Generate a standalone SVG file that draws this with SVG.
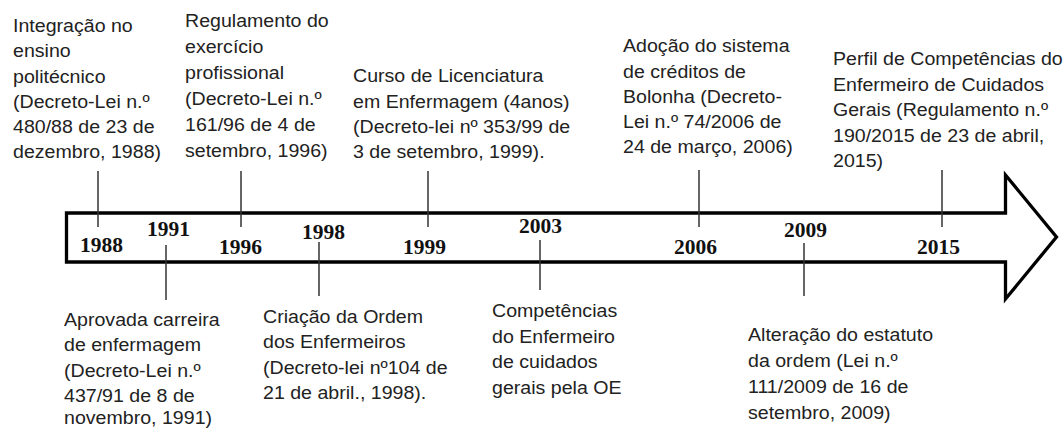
<svg xmlns="http://www.w3.org/2000/svg" width="1064" height="429" viewBox="0 0 1064 429">
<style>
.lbl{font-family:"Liberation Sans",Arial,sans-serif;font-size:17.5px;fill:#222}
.yr{font-family:"Liberation Serif","Times New Roman",serif;font-size:21.5px;font-weight:bold;fill:#111}
.tick{stroke:#333;stroke-width:1.5;fill:none}
.arrow{fill:#fff;stroke:#000;stroke-width:3.3;stroke-linejoin:miter}
</style>
<rect width="1064" height="429" fill="#fff"/>
<g id="timeline-arrow">
<polygon class="arrow" points="66.5,213 1005.5,213 1005.5,175 1056.5,237 1005.5,299 1005.5,262 66.5,262"/>
</g>
<g id="connectors">
<line class="tick" x1="98" y1="171" x2="98" y2="227"/>
<line class="tick" x1="241" y1="171" x2="241" y2="227"/>
<line class="tick" x1="428" y1="171" x2="428" y2="227"/>
<line class="tick" x1="699" y1="170" x2="699" y2="227"/>
<line class="tick" x1="942" y1="170" x2="942" y2="227"/>
<line class="tick" x1="166" y1="245" x2="166" y2="300"/>
<line class="tick" x1="319" y1="242" x2="319" y2="296"/>
<line class="tick" x1="540" y1="240" x2="540" y2="290"/>
<line class="tick" x1="804" y1="243" x2="804" y2="296"/>
</g>
<g id="years">
<text class="yr" x="80" y="252">1988</text>
<text class="yr" x="147" y="236">1991</text>
<text class="yr" x="219" y="254">1996</text>
<text class="yr" x="302" y="239">1998</text>
<text class="yr" x="403" y="254">1999</text>
<text class="yr" x="519" y="233">2003</text>
<text class="yr" x="674" y="254">2006</text>
<text class="yr" x="784" y="237">2009</text>
<text class="yr" x="917" y="254">2015</text>
</g>
<g id="n1988" transform="translate(13,0) scale(1.12,1)">
<text class="lbl" x="0" y="32">Integração no</text>
<text class="lbl" x="0" y="57.5">ensino</text>
<text class="lbl" x="0" y="83">politécnico</text>
<text class="lbl" x="0" y="108">(Decreto-Lei n.º</text>
<text class="lbl" x="0" y="133">480/88 de 23 de</text>
<text class="lbl" x="0" y="158">dezembro, 1988)</text>
</g>
<g id="n1996" transform="translate(185,0) scale(1.12,1)">
<text class="lbl" x="0" y="27">Regulamento do</text>
<text class="lbl" x="0" y="53">exercício</text>
<text class="lbl" x="0" y="79">profissional</text>
<text class="lbl" x="0" y="105">(Decreto-Lei n.º</text>
<text class="lbl" x="0" y="131">161/96 de 4 de</text>
<text class="lbl" x="0" y="157">setembro, 1996)</text>
</g>
<g id="n1999" transform="translate(353,0) scale(1.12,1)">
<text class="lbl" x="0" y="82">Curso de Licenciatura</text>
<text class="lbl" x="0" y="108">em Enfermagem (4anos)</text>
<text class="lbl" x="0" y="133">(Decreto-lei nº 353/99 de</text>
<text class="lbl" x="0" y="158">3 de setembro, 1999).</text>
</g>
<g id="n2006" transform="translate(623,0) scale(1.12,1)">
<text class="lbl" x="0" y="52">Adoção do sistema</text>
<text class="lbl" x="0" y="78">de créditos de</text>
<text class="lbl" x="0" y="103">Bolonha (Decreto-</text>
<text class="lbl" x="0" y="128">Lei n.º 74/2006 de</text>
<text class="lbl" x="0" y="153">24 de março, 2006)</text>
</g>
<g id="n2015" transform="translate(833,0) scale(1.12,1)">
<text class="lbl" x="0" y="65">Perfil de Competências do</text>
<text class="lbl" x="0" y="91">Enfermeiro de Cuidados</text>
<text class="lbl" x="0" y="116.5">Gerais (Regulamento n.º</text>
<text class="lbl" x="0" y="142">190/2015 de 23 de abril,</text>
<text class="lbl" x="0" y="167">2015)</text>
</g>
<g id="n1991" transform="translate(64,0) scale(1.12,1)">
<text class="lbl" x="0" y="326">Aprovada carreira</text>
<text class="lbl" x="0" y="351.5">de enfermagem</text>
<text class="lbl" x="0" y="377">(Decreto-Lei n.º</text>
<text class="lbl" x="0" y="402">437/91 de 8 de</text>
<text class="lbl" x="0" y="424.5">novembro, 1991)</text>
</g>
<g id="n1998" transform="translate(263,0) scale(1.12,1)">
<text class="lbl" x="0" y="323">Criação da Ordem</text>
<text class="lbl" x="0" y="348.5">dos Enfermeiros</text>
<text class="lbl" x="0" y="374">(Decreto-lei nº104 de</text>
<text class="lbl" x="0" y="399.5">21 de abril., 1998).</text>
</g>
<g id="n2003" transform="translate(492,0) scale(1.12,1)">
<text class="lbl" x="0" y="317">Competências</text>
<text class="lbl" x="0" y="343">do Enfermeiro</text>
<text class="lbl" x="0" y="368.5">de cuidados</text>
<text class="lbl" x="0" y="394">gerais pela OE</text>
</g>
<g id="n2009" transform="translate(748,0) scale(1.12,1)">
<text class="lbl" x="0" y="341">Alteração do estatuto</text>
<text class="lbl" x="0" y="367">da ordem (Lei n.º</text>
<text class="lbl" x="0" y="393">111/2009 de 16 de</text>
<text class="lbl" x="0" y="419">setembro, 2009)</text>
</g>
</svg>
